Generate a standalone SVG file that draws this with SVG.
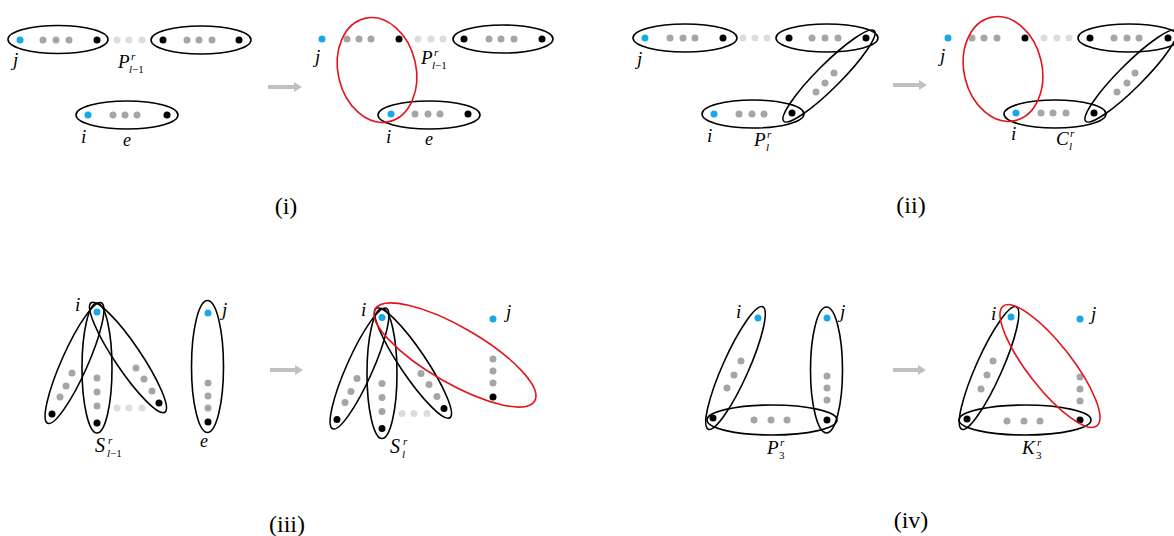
<svg xmlns="http://www.w3.org/2000/svg" width="1174" height="536" viewBox="0 0 1174 536">
<style>
.e{fill:none;stroke:#000;stroke-width:1.6}
.r{fill:none;stroke:#e3141b;stroke-width:1.6}
.b{fill:#17a9e6}.g{fill:#a5a5a5}.l{fill:#dcdcdc}.k{fill:#000}
.t{font-family:"Liberation Serif",serif;font-style:italic;font-size:19px;fill:#000}
.s{font-family:"Liberation Serif",serif;font-style:italic;font-size:11px;fill:#000}
.u{font-style:normal}
.cap{font-family:"Liberation Serif",serif;font-size:24px;fill:#000;text-anchor:middle}
.ar{stroke:#c0c0c0;stroke-width:4;fill:none}
</style>
<defs>
<marker id="ah" viewBox="0 0 8 10" refX="1" refY="5" markerWidth="8" markerHeight="10" markerUnits="userSpaceOnUse" orient="auto"><path d="M0,0 L8,5 L0,10 z" fill="#c0c0c0"/></marker>
</defs>

<g id="connectors">
<line class="ar" x1="268" y1="87" x2="295" y2="87" marker-end="url(#ah)"/>
<line class="ar" x1="893" y1="85" x2="920" y2="85" marker-end="url(#ah)"/>
<line class="ar" x1="270" y1="370" x2="296" y2="370" marker-end="url(#ah)"/>
<line class="ar" x1="893" y1="370" x2="919" y2="370" marker-end="url(#ah)"/>
</g>

<!-- Panel (i) left -->
<g id="p1a-top1">
<ellipse class="e" cx="58" cy="39.5" rx="50" ry="14"/>
<circle class="b" cx="20" cy="40" r="3.5"/><circle class="g" cx="43" cy="40" r="3.5"/><circle class="g" cx="56" cy="40" r="3.5"/><circle class="g" cx="69" cy="40" r="3.5"/><circle class="k" cx="97" cy="40" r="3.5"/>
</g>
<g id="p1a-gap"><circle class="l" cx="117" cy="40" r="3.5"/><circle class="l" cx="129" cy="40" r="3.5"/><circle class="l" cx="142" cy="40" r="3.5"/></g>
<g id="p1a-top2">
<ellipse class="e" cx="201" cy="40" rx="50" ry="14"/>
<circle class="k" cx="163" cy="40" r="3.5"/><circle class="g" cx="187" cy="40" r="3.5"/><circle class="g" cx="199" cy="40" r="3.5"/><circle class="g" cx="212" cy="40" r="3.5"/><circle class="k" cx="239" cy="40" r="3.5"/>
</g>
<g id="p1a-e">
<ellipse class="e" cx="127" cy="115" rx="51" ry="14"/>
<circle class="b" cx="88" cy="115" r="3.5"/><circle class="g" cx="113" cy="115" r="3.5"/><circle class="g" cx="125" cy="115" r="3.5"/><circle class="g" cx="137" cy="115" r="3.5"/><circle class="k" cx="167" cy="115" r="3.5"/>
</g>
<g id="p1a-labels">
<text class="t" x="13" y="66">j</text>
<text class="t" x="81" y="143">i</text>
<text class="t" x="123" y="146" style="font-size:18px">e</text>
<text class="t" x="118" y="68">P</text><text class="s" x="131" y="60">r</text><text class="s" x="129" y="73">l<tspan class="u">−1</tspan></text>
</g>

<!-- Panel (i) right -->
<g id="p1b-top">
<circle class="b" cx="322" cy="39" r="3.5"/><circle class="g" cx="347" cy="39" r="3.5"/><circle class="g" cx="359" cy="39" r="3.5"/><circle class="g" cx="371" cy="39" r="3.5"/><circle class="k" cx="399" cy="39" r="3.5"/>
<circle class="l" cx="418" cy="39" r="3.5"/><circle class="l" cx="431" cy="39" r="3.5"/><circle class="l" cx="443" cy="39" r="3.5"/>
</g>
<g id="p1b-top2">
<ellipse class="e" cx="503" cy="39" rx="50" ry="14"/>
<circle class="k" cx="464" cy="39" r="3.5"/><circle class="g" cx="489" cy="39" r="3.5"/><circle class="g" cx="501" cy="39" r="3.5"/><circle class="g" cx="514" cy="39" r="3.5"/><circle class="k" cx="542" cy="39" r="3.5"/>
</g>
<g id="p1b-e">
<ellipse class="e" cx="429" cy="115" rx="51" ry="14"/>
<circle class="b" cx="391" cy="114" r="3.5"/><circle class="g" cx="415" cy="114" r="3.5"/><circle class="g" cx="428" cy="114" r="3.5"/><circle class="g" cx="440" cy="114" r="3.5"/><circle class="k" cx="468" cy="114" r="3.5"/>
</g>
<g id="p1b-red"><ellipse class="r" cx="377" cy="70" rx="39" ry="53" transform="rotate(-13 377 70)"/></g>
<g id="p1b-labels">
<text class="t" x="315" y="63">j</text>
<text class="t" x="386" y="143">i</text>
<text class="t" x="425" y="145" style="font-size:18px">e</text>
<text class="t" x="421" y="64">P</text><text class="s" x="434" y="56">r</text><text class="s" x="432" y="69">l<tspan class="u">−1</tspan></text>
</g>
<text class="cap" x="286" y="214">(i)</text>

<!-- Panel (ii) left -->
<g id="p2a-top1">
<ellipse class="e" cx="685" cy="38" rx="52" ry="14"/>
<circle class="b" cx="645" cy="38" r="3.5"/><circle class="g" cx="670" cy="38" r="3.5"/><circle class="g" cx="683" cy="38" r="3.5"/><circle class="g" cx="695" cy="38" r="3.5"/><circle class="k" cx="723" cy="38" r="3.5"/>
</g>
<g id="p2a-gap"><circle class="l" cx="743" cy="38" r="3.5"/><circle class="l" cx="755" cy="38" r="3.5"/><circle class="l" cx="767" cy="38" r="3.5"/></g>
<g id="p2a-top2">
<ellipse class="e" cx="827" cy="38" rx="51" ry="14"/>
<circle class="k" cx="789" cy="38" r="3.5"/><circle class="g" cx="812" cy="38" r="3.5"/><circle class="g" cx="825" cy="38" r="3.5"/><circle class="g" cx="838" cy="38" r="3.5"/><circle class="k" cx="866" cy="38" r="3.5"/>
</g>
<g id="p2a-diag">
<ellipse class="e" cx="829" cy="76" rx="64" ry="12" transform="rotate(-45 829 76)"/>
<circle class="g" cx="834" cy="73" r="3.5"/><circle class="g" cx="825" cy="83" r="3.5"/><circle class="g" cx="816" cy="92" r="3.5"/>
</g>
<g id="p2a-bot">
<ellipse class="e" cx="753" cy="114" rx="51" ry="14"/>
<circle class="b" cx="714" cy="114" r="3.5"/><circle class="g" cx="739" cy="114" r="3.5"/><circle class="g" cx="752" cy="114" r="3.5"/><circle class="g" cx="764" cy="114" r="3.5"/><circle class="k" cx="792" cy="113" r="3.5"/>
</g>
<g id="p2a-labels">
<text class="t" x="637" y="65">j</text>
<text class="t" x="707" y="142">i</text>
<text class="t" x="754" y="146">P</text><text class="s" x="767" y="138">r</text><text class="s" x="766" y="151">l</text>
</g>

<!-- Panel (ii) right -->
<g id="p2b-top">
<circle class="b" cx="948" cy="38" r="3.5"/><circle class="g" cx="972" cy="38" r="3.5"/><circle class="g" cx="984" cy="38" r="3.5"/><circle class="g" cx="997" cy="38" r="3.5"/><circle class="k" cx="1025" cy="38" r="3.5"/>
<circle class="l" cx="1044" cy="38" r="3.5"/><circle class="l" cx="1057" cy="38" r="3.5"/><circle class="l" cx="1069" cy="38" r="3.5"/>
</g>
<g id="p2b-top2">
<ellipse class="e" cx="1129" cy="38" rx="51" ry="14"/>
<circle class="k" cx="1090" cy="38" r="3.5"/><circle class="g" cx="1114" cy="38" r="3.5"/><circle class="g" cx="1127" cy="38" r="3.5"/><circle class="g" cx="1139" cy="38" r="3.5"/><circle class="k" cx="1168" cy="38" r="3.5"/>
</g>
<g id="p2b-diag">
<ellipse class="e" cx="1131" cy="76" rx="64" ry="12" transform="rotate(-45 1131 76)"/>
<circle class="g" cx="1135" cy="73" r="3.5"/><circle class="g" cx="1127" cy="83" r="3.5"/><circle class="g" cx="1117" cy="92" r="3.5"/>
</g>
<g id="p2b-bot">
<ellipse class="e" cx="1055" cy="114" rx="51" ry="14"/>
<circle class="b" cx="1016" cy="113" r="3.5"/><circle class="g" cx="1041" cy="113" r="3.5"/><circle class="g" cx="1053" cy="113" r="3.5"/><circle class="g" cx="1066" cy="113" r="3.5"/><circle class="k" cx="1094" cy="113" r="3.5"/>
</g>
<g id="p2b-red"><ellipse class="r" cx="1003" cy="69" rx="39" ry="53" transform="rotate(-13 1003 69)"/></g>
<g id="p2b-labels">
<text class="t" x="940" y="62">j</text>
<text class="t" x="1011" y="140">i</text>
<text class="t" x="1056" y="145">C</text><text class="s" x="1070" y="137">r</text><text class="s" x="1069" y="150">l</text>
</g>
<text class="cap" x="911" y="213">(ii)</text>

<!-- Panel (iii) left -->
<g id="p3a-star">
<ellipse class="e" cx="74.5" cy="363" rx="13" ry="66" transform="rotate(24 74.5 363)"/>
<ellipse class="e" cx="97" cy="368" rx="15" ry="65"/>
<ellipse class="e" cx="128" cy="357.5" rx="13" ry="66" transform="rotate(-34 128 357.5)"/>
<circle class="b" cx="97" cy="312" r="3.5"/>
<circle class="g" cx="72" cy="373" r="3.5"/><circle class="g" cx="66" cy="386" r="3.5"/><circle class="g" cx="60" cy="397" r="3.5"/><circle class="k" cx="52" cy="414" r="3.5"/>
<circle class="g" cx="97" cy="378" r="3.5"/><circle class="g" cx="97" cy="392" r="3.5"/><circle class="g" cx="97" cy="406" r="3.5"/><circle class="k" cx="97" cy="423" r="3.5"/>
<circle class="g" cx="136" cy="368" r="3.5"/><circle class="g" cx="144" cy="379" r="3.5"/><circle class="g" cx="152" cy="391" r="3.5"/><circle class="k" cx="159" cy="403" r="3.5"/>
<circle class="l" cx="117" cy="408" r="3.5"/><circle class="l" cx="129" cy="408" r="3.5"/><circle class="l" cx="142" cy="408" r="3.5"/>
</g>
<g id="p3a-e">
<ellipse class="e" cx="207.5" cy="366.5" rx="16" ry="66"/>
<circle class="b" cx="208" cy="313" r="3.5"/><circle class="g" cx="208" cy="383" r="3.5"/><circle class="g" cx="208" cy="396" r="3.5"/><circle class="g" cx="208" cy="408" r="3.5"/><circle class="k" cx="208" cy="422" r="3.5"/>
</g>
<g id="p3a-labels">
<text class="t" x="75" y="311">i</text>
<text class="t" x="222" y="316">j</text>
<text class="t" x="200" y="447" style="font-size:18px">e</text>
<text class="t" x="95" y="452" style="font-size:20px">S</text><text class="s" x="108" y="444">r</text><text class="s" x="107" y="457">l<tspan class="u">−1</tspan></text>
</g>

<!-- Panel (iii) right -->
<g id="p3b-star" transform="translate(285 5.5)">
<ellipse class="e" cx="74.5" cy="363" rx="13" ry="66" transform="rotate(24 74.5 363)"/>
<ellipse class="e" cx="97" cy="368" rx="15" ry="65"/>
<ellipse class="e" cx="128" cy="357.5" rx="13" ry="66" transform="rotate(-34 128 357.5)"/>
<circle class="b" cx="97" cy="312" r="3.5"/>
<circle class="g" cx="72" cy="373" r="3.5"/><circle class="g" cx="66" cy="386" r="3.5"/><circle class="g" cx="60" cy="397" r="3.5"/><circle class="k" cx="52" cy="414" r="3.5"/>
<circle class="g" cx="97" cy="378" r="3.5"/><circle class="g" cx="97" cy="392" r="3.5"/><circle class="g" cx="97" cy="406" r="3.5"/><circle class="k" cx="97" cy="423" r="3.5"/>
<circle class="g" cx="136" cy="368" r="3.5"/><circle class="g" cx="144" cy="379" r="3.5"/><circle class="g" cx="152" cy="391" r="3.5"/><circle class="k" cx="159" cy="403" r="3.5"/>
<circle class="l" cx="117" cy="408" r="3.5"/><circle class="l" cx="129" cy="408" r="3.5"/><circle class="l" cx="142" cy="408" r="3.5"/>
</g>
<g id="p3b-e">
<circle class="b" cx="493" cy="319" r="3.5"/><circle class="g" cx="493" cy="359" r="3.5"/><circle class="g" cx="493" cy="371" r="3.5"/><circle class="g" cx="493" cy="383" r="3.5"/><circle class="k" cx="493" cy="397" r="3.5"/>
</g>
<g id="p3b-red"><ellipse class="r" cx="455" cy="355" rx="92" ry="28" transform="rotate(30 455 355)"/></g>
<g id="p3b-labels">
<text class="t" x="361" y="316">i</text>
<text class="t" x="506" y="318">j</text>
<text class="t" x="390" y="453" style="font-size:20px">S</text><text class="s" x="403" y="445">r</text><text class="s" x="402" y="458">l</text>
</g>
<text class="cap" x="287" y="532">(iii)</text>

<!-- Panel (iv) left -->
<g id="p4a-left">
<ellipse class="e" cx="735.5" cy="368" rx="13" ry="67" transform="rotate(24 735.5 368)"/>
<circle class="b" cx="758" cy="318" r="3.5"/><circle class="g" cx="741" cy="361" r="3.5"/><circle class="g" cx="734" cy="375" r="3.5"/><circle class="g" cx="727" cy="388" r="3.5"/><circle class="k" cx="713" cy="418" r="3.5"/>
</g>
<g id="p4a-right">
<ellipse class="e" cx="826.5" cy="370" rx="16" ry="63"/>
<circle class="b" cx="827" cy="318" r="3.5"/><circle class="g" cx="827" cy="376" r="3.5"/><circle class="g" cx="827" cy="388" r="3.5"/><circle class="g" cx="827" cy="400" r="3.5"/><circle class="k" cx="827" cy="420" r="3.5"/>
</g>
<g id="p4a-bot">
<ellipse class="e" cx="772" cy="420" rx="65" ry="15"/>
<circle class="g" cx="754" cy="420" r="3.5"/><circle class="g" cx="771" cy="420" r="3.5"/><circle class="g" cx="787" cy="420" r="3.5"/>
</g>
<g id="p4a-labels">
<text class="t" x="736" y="318">i</text>
<text class="t" x="840" y="318">j</text>
<text class="t" x="767" y="454">P</text><text class="s" x="780" y="446">r</text><text class="s" x="779" y="459" style="font-style:normal">3</text>
</g>

<!-- Panel (iv) right -->
<g id="p4b-left">
<ellipse class="e" cx="989" cy="368" rx="13" ry="67" transform="rotate(24 989 368)"/>
<circle class="b" cx="1011" cy="317" r="3.5"/><circle class="g" cx="993" cy="361" r="3.5"/><circle class="g" cx="987" cy="375" r="3.5"/><circle class="g" cx="981" cy="389" r="3.5"/><circle class="k" cx="967" cy="419" r="3.5"/>
</g>
<g id="p4b-right">
<circle class="b" cx="1080" cy="319" r="3.5"/><circle class="g" cx="1080" cy="377" r="3.5"/><circle class="g" cx="1080" cy="389" r="3.5"/><circle class="g" cx="1080" cy="401" r="3.5"/><circle class="k" cx="1080" cy="420" r="3.5"/>
</g>
<g id="p4b-bot">
<ellipse class="e" cx="1025" cy="420" rx="66" ry="15"/>
<circle class="g" cx="1007" cy="421" r="3.5"/><circle class="g" cx="1024" cy="421" r="3.5"/><circle class="g" cx="1040" cy="421" r="3.5"/>
</g>
<g id="p4b-red"><ellipse class="r" cx="1050" cy="366" rx="76" ry="22" transform="rotate(52 1050 366)"/></g>
<g id="p4b-labels">
<text class="t" x="991" y="320">i</text>
<text class="t" x="1091" y="320">j</text>
<text class="t" x="1022" y="454">K</text><text class="s" x="1037" y="446">r</text><text class="s" x="1036" y="459" style="font-style:normal">3</text>
</g>
<text class="cap" x="911" y="528">(iv)</text>
</svg>
